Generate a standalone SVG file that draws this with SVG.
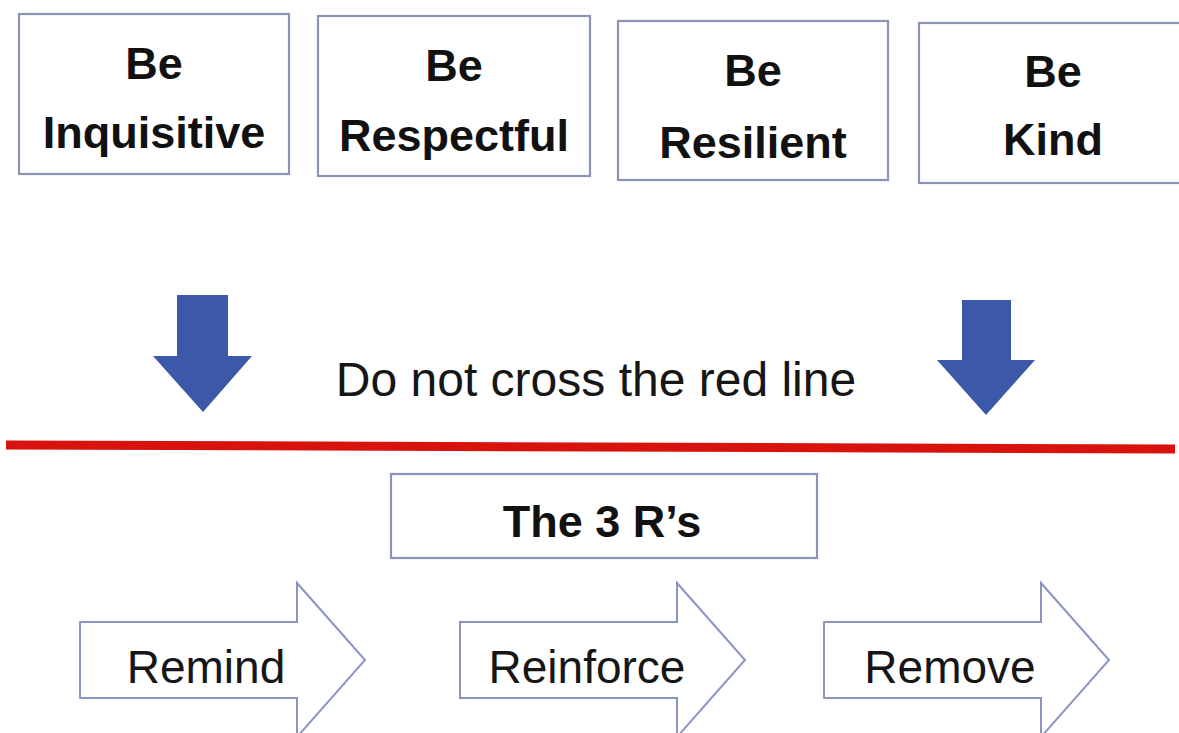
<svg xmlns="http://www.w3.org/2000/svg" width="1179" height="733" viewBox="0 0 1179 733">
<style>
.box{fill:#fff;stroke:#8c94b6;stroke-width:2.2}
.bt{font-family:"Liberation Sans",Arial,sans-serif;font-weight:bold;font-size:45px;fill:#111;text-anchor:middle}
.rt{font-family:"Liberation Sans",Arial,sans-serif;font-size:46px;fill:#161616;text-anchor:middle}
.blue{fill:#3c58a8}
.rarrow{fill:#fff;stroke:#8c94c4;stroke-width:2}
</style>
<rect width="1179" height="733" fill="#fff"/>
<g id="be-inquisitive">
<rect class="box" x="19" y="14" width="270" height="160"/>
<text class="bt" x="154" y="79">Be</text>
<text class="bt" x="154" y="148">Inquisitive</text>
</g>
<g id="be-respectful">
<rect class="box" x="318" y="16" width="272" height="160"/>
<text class="bt" x="454" y="81">Be</text>
<text class="bt" x="454" y="151">Respectful</text>
</g>
<g id="be-resilient">
<rect class="box" x="618" y="21" width="270" height="159"/>
<text class="bt" x="753" y="86">Be</text>
<text class="bt" x="753" y="158">Resilient</text>
</g>
<g id="be-kind">
<rect class="box" x="919" y="23" width="280" height="160"/>
<text class="bt" x="1053" y="87">Be</text>
<text class="bt" x="1053" y="155">Kind</text>
</g>
<g id="connectors">
<polygon class="blue" points="177,295 228,295 228,356 252,356 203,412 153,356 177,356"/>
<polygon class="blue" points="962,300 1011,300 1011,360 1035,360 986,415 937,360 962,360"/>
</g>
<g id="red-line-label">
<text x="596" y="396" font-family="'Liberation Sans',Arial,sans-serif" font-size="48" fill="#161616" text-anchor="middle">Do not cross the red line</text>
</g>
<g id="red-line">
<line x1="6" y1="445" x2="1175" y2="449" stroke="#d8120c" stroke-width="9"/>
</g>
<g id="three-rs">
<rect class="box" x="391" y="474" width="426" height="84"/>
<text class="bt" x="602" y="537">The 3 R’s</text>
</g>
<g id="remind">
<polygon class="rarrow" points="80,622 297,622 297,583 365,660 297,737 297,698 80,698"/>
<text class="rt" x="206" y="683">Remind</text>
</g>
<g id="reinforce">
<polygon class="rarrow" points="460,622 677,622 677,583 745,660 677,737 677,698 460,698"/>
<text class="rt" x="587" y="683">Reinforce</text>
</g>
<g id="remove">
<polygon class="rarrow" points="824,622 1041,622 1041,583 1109,660 1041,737 1041,698 824,698"/>
<text class="rt" x="950" y="683">Remove</text>
</g>
</svg>
